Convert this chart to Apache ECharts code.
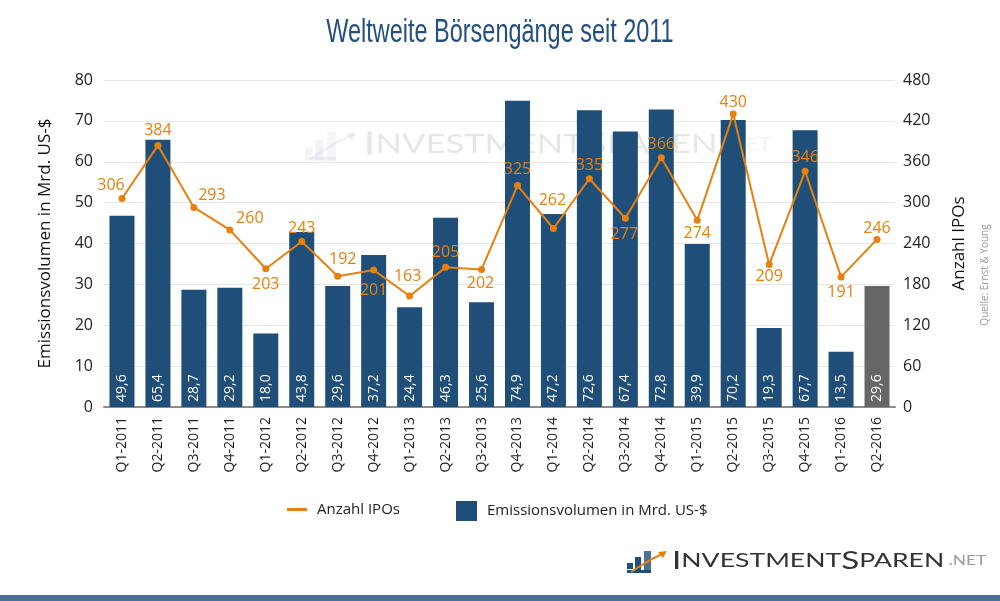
<!DOCTYPE html>
<html><head><meta charset="utf-8">
<script src="https://cdn.jsdelivr.net/npm/echarts@6/dist/echarts.min.js"></script>
<style>html,body{margin:0;padding:0;background:#fff}#c{width:1000px;height:601px}</style>
</head><body><div id="c"></div>
<script>
const categories = ['Q1-2011','Q2-2011','Q3-2011','Q4-2011','Q1-2012','Q2-2012','Q3-2012','Q4-2012','Q1-2013','Q2-2013','Q3-2013','Q4-2013','Q1-2014','Q2-2014','Q3-2014','Q4-2014','Q1-2015','Q2-2015','Q3-2015','Q4-2015','Q1-2016','Q2-2016'];
const volumes = [46.8, 65.4, 28.7, 29.2, 18.0, 42.8, 29.6, 37.2, 24.4, 46.3, 25.6, 74.9, 47.2, 72.6, 67.4, 72.8, 39.9, 70.2, 19.3, 67.7, 13.5, 29.6];
const volumeLabels = ['49,6','65,4','28,7','29,2','18,0','43,8','29,6','37,2','24,4','46,3','25,6','74,9','47,2','72,6','67,4','72,8','39,9','70,2','19,3','67,7','13,5','29,6'];
const ipoCounts = [306, 384, 293, 260, 203, 243, 192, 201, 163, 205, 202, 325, 262, 335, 277, 366, 274, 430, 209, 346, 191, 246];
const leftTicks = [0, 80, 10];
const rightTicks = [0, 480, 60];

// label placement (pixel offsets from each point), layout only
const ipoLabelOffsets = [[-11,-13],[0,-15],[18,-12],[20,-11],[0,16],[0,-13],[5,-17],[0,20],[-2,-20],[0,-15],[-1,14],[0,-16],[-1,-28],[0,-13],[-1,16],[0,-13],[0,13],[0,-12],[0,12],[0,-14],[0,16],[0,-11]];

const BLUE = '#1f4e79', ORANGE = '#e6800f', GRAY = '#666666';
const FONT = '"Open Sans", sans-serif';

const chart = echarts.init(document.getElementById('c'));

const barData = volumes.map((v, i) => i === volumes.length - 1 ? {value: v, itemStyle: {color: GRAY}} : v);
const lineData = ipoCounts.map((v, i) => ({value: v, label: {offset: ipoLabelOffsets[i]}}));

function logoGroup(x, y, s, color, accent, opacity, z) {
  return {
    type: 'group', left: x, top: y, scaleX: s, scaleY: s, z: z, silent: true,
    children: [
      {type: 'rect', shape: {x: 0, y: 14, width: 6, height: 6}, style: {fill: color, opacity: opacity}},
      {type: 'rect', shape: {x: 8, y: 8, width: 6, height: 16}, style: {fill: color, opacity: opacity}},
      {type: 'rect', shape: {x: 17, y: 2, width: 7, height: 22}, style: {fill: color, opacity: opacity * 0.8}},
      {type: 'rect', shape: {x: 0, y: 21, width: 24, height: 3}, style: {fill: color, opacity: opacity}},
      {type: 'bezierCurve', shape: {x1: 4, y1: 23, x2: 38, y2: 4, cpx1: 18, cpy1: 14, cpx2: 26, cpy2: 8}, style: {stroke: accent, lineWidth: 2, fill: null, opacity: opacity}},
      {type: 'polygon', shape: {points: [[40, 2], [31, 3], [36, 9]]}, style: {fill: accent, opacity: opacity}},
      {type: 'text', x: 45, y: 24, scaleX: 1.33, style: {
        text: '{a|I}{b|NVESTMENT}{a|S}{b|PAREN}{c| .NET}',
        textVerticalAlign: 'bottom',
        rich: {
          a: {fontFamily: 'Lato, sans-serif', fontSize: 25, fill: '#333', opacity: opacity},
          b: {fontFamily: 'Lato, sans-serif', fontSize: 20, fill: '#333', opacity: opacity},
          c: {fontFamily: 'Lato, sans-serif', fontSize: 13, fill: '#999', opacity: opacity}
        }
      }}
    ]
  };
}

chart.setOption({
  animation: false,
  backgroundColor: '#ffffff',
  grid: {left: 104, right: 105, top: 80, bottom: 194},
  legend: [
    {data: ['Anzahl IPOs'], left: 287, top: 502, padding: 0, icon: 'rect', itemWidth: 20, itemHeight: 3,
     textStyle: {fontFamily: FONT, fontSize: 15, color: '#222', padding: [0, 0, 0, 5]}},
    {data: ['Emissionsvolumen in Mrd. US-$'], left: 456, top: 501, padding: 0, icon: 'rect', itemWidth: 21, itemHeight: 20,
     textStyle: {fontFamily: FONT, fontSize: 15, color: '#222', padding: [0, 0, 0, 5]}}
  ],
  xAxis: {
    type: 'category', data: categories,
    axisTick: {show: false},
    axisLine: {lineStyle: {color: '#8c8c8c', width: 2}},
    axisLabel: {rotate: 90, fontFamily: FONT, fontSize: 14, color: '#222', margin: 10, interval: 0}
  },
  yAxis: [
    {type: 'value', min: leftTicks[0], max: leftTicks[1], interval: leftTicks[2],
     name: 'Emissionsvolumen in Mrd. US-$', nameLocation: 'middle', nameGap: 50,
     nameTextStyle: {fontFamily: FONT, fontSize: 17, color: '#111'},
     axisLine: {show: false}, axisTick: {show: false},
     axisLabel: {fontFamily: FONT, fontSize: 16, color: '#222', margin: 11},
     splitLine: {lineStyle: {color: '#e6e6e6', width: 1}}},
    {type: 'value', min: rightTicks[0], max: rightTicks[1], interval: rightTicks[2], position: 'right',
     name: 'Anzahl IPOs', nameLocation: 'middle', nameGap: 56, nameRotate: 90,
     nameTextStyle: {fontFamily: FONT, fontSize: 17, color: '#111'},
     axisLine: {show: false}, axisTick: {show: false},
     axisLabel: {fontFamily: FONT, fontSize: 16, color: '#222', margin: 8},
     splitLine: {show: false}}
  ],
  series: [
    {name: 'Emissionsvolumen in Mrd. US-$', type: 'bar', yAxisIndex: 0, data: barData, barWidth: 25,
     itemStyle: {color: BLUE}, z: 2,
     label: {show: true, position: 'insideBottom', rotate: 90, align: 'left', verticalAlign: 'middle', distance: 5,
             fontFamily: FONT, fontSize: 14, color: '#fff',
             formatter: p => volumeLabels[p.dataIndex]}},
    {name: 'Anzahl IPOs', type: 'line', yAxisIndex: 1, data: lineData, z: 3,
     lineStyle: {color: ORANGE, width: 2}, itemStyle: {color: ORANGE},
     symbol: 'circle', symbolSize: 7,
     label: {show: true, position: 'inside', fontFamily: FONT, fontSize: 16, color: ORANGE,
             align: 'center', verticalAlign: 'middle'}}
  ],
  graphic: [
    {type: 'text', x: 500, y: 33, z: 10, scaleX: 0.69, originX: 0,
     style: {text: 'Weltweite Börsengänge seit 2011', fontFamily: '"Liberation Sans Narrow", sans-serif', fontSize: 34, fill: '#24507f',
             textAlign: 'center', textVerticalAlign: 'middle'}},
    {type: 'text', x: 985, y: 275, rotation: Math.PI / 2, z: 10,
     style: {text: 'Quelle: Ernst & Young', fontFamily: FONT, fontSize: 10, fill: '#999', textAlign: 'center', textVerticalAlign: 'middle'}},
    {type: 'rect', left: 0, top: 595, z: 10, shape: {width: 1000, height: 6}, style: {fill: '#4a6f96'}},
    logoGroup(627, 548, 1, BLUE, ORANGE, 1, 10),
    logoGroup(305, 128, 1.3, '#8aa0b8', '#8aa0b8', 0.12, 0)
  ]
});
</script></body></html>
